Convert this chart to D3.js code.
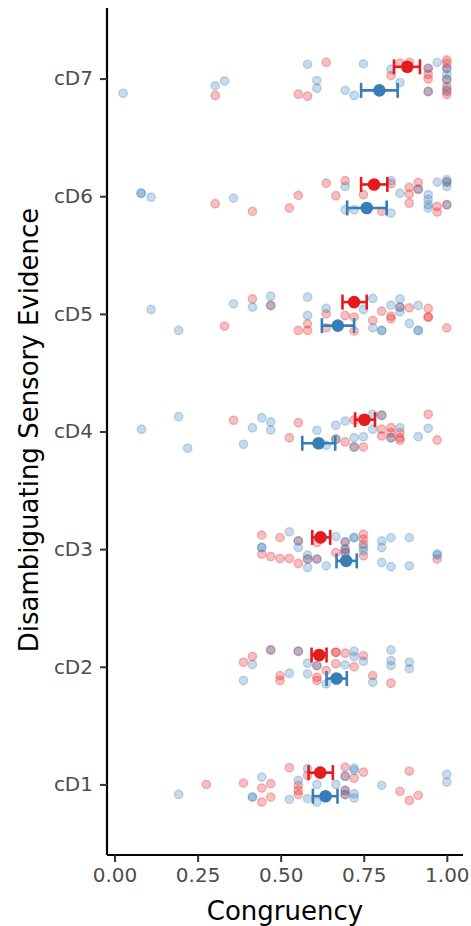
<!DOCTYPE html>
<html>
<head>
<script src="https://d3js.org/d3.v7.min.js"></script>
<style>
  body { margin: 0; background: #fff; }
  svg { display: block; font-family: "DejaVu Sans", sans-serif; }
</style>
</head>
<body>
<div id="chart"></div>
<script>
// categories, top to bottom
const categories = ["cD7", "cD6", "cD5", "cD4", "cD3", "cD2", "cD1"];
const xTicks = [0, 0.25, 0.5, 0.75, 1];

// individual points: [category, congruency, jitter (fraction of band, + = up)]
const redPoints = [
  ["cD7",0.303,-0.144],["cD7",0.553,-0.133],["cD7",0.581,-0.15],["cD7",0.637,0.138],["cD7",0.832,0.025],
  ["cD7",0.859,0.13],["cD7",0.888,0.138],["cD7",0.944,0.087],["cD7",0.944,0.037],["cD7",0.944,-0.003],
  ["cD7",0.944,-0.11],["cD7",1.0,0.159],["cD7",1.0,0.13],["cD7",1.0,0.087],["cD7",1.0,-0.008],
  ["cD7",1.0,-0.068],["cD7",1.0,-0.11],["cD7",1.0,-0.136],
  ["cD6",0.303,-0.064],["cD6",0.415,-0.129],["cD6",0.526,-0.10],["cD6",0.553,0.007],["cD6",0.637,0.111],
  ["cD6",0.666,0.004],["cD6",0.694,0.132],["cD6",0.749,0.013],["cD6",0.804,-0.129],["cD6",0.832,0.106],
  ["cD6",0.887,0.075],["cD6",0.887,0.018],["cD6",0.887,-0.059],["cD6",0.914,0.06],["cD6",0.914,0.117],
  ["cD6",0.971,-0.087],["cD6",0.971,-0.135],["cD6",1.0,0.12],["cD6",1.0,-0.072],
  ["cD5",0.331,-0.104],["cD5",0.415,0.127],["cD5",0.47,0.071],["cD5",0.581,-0.085],["cD5",0.581,-0.141],
  ["cD5",0.553,-0.141],["cD5",0.637,0],["cD5",0.637,-0.119],["cD5",0.694,-0.014],["cD5",0.721,-0.028],
  ["cD5",0.721,-0.147],["cD5",0.777,-0.056],["cD5",0.804,0.023],["cD5",0.832,-0.02],["cD5",0.832,-0.042],
  ["cD5",0.859,0.057],["cD5",0.887,0.051],["cD5",0.944,0.046],["cD5",0.944,-0.028],["cD5",0.944,-0.028],
  ["cD5",1.0,-0.119],
  ["cD4",0.358,0.095],["cD4",0.526,-0.053],["cD4",0.553,0.075],["cD4",0.666,-0.066],["cD4",0.694,-0.089],
  ["cD4",0.721,0.098],["cD4",0.721,-0.132],["cD4",0.749,-0.132],["cD4",0.804,0.138],["cD4",0.804,0.019],
  ["cD4",0.804,-0.038],["cD4",0.832,0.032],["cD4",0.832,-0.01],["cD4",0.832,-0.053],["cD4",0.859,-0.01],
  ["cD4",0.859,-0.053],["cD4",0.859,-0.075],["cD4",0.944,0.146],["cD4",0.971,-0.072],
  ["cD3",0.443,0.119],["cD3",0.443,-0.042],["cD3",0.47,-0.063],["cD3",0.498,0.098],["cD3",0.498,-0.08],
  ["cD3",0.526,-0.08],["cD3",0.553,0.07],["cD3",0.553,-0.122],["cD3",0.581,-0.085],["cD3",0.609,0.056],
  ["cD3",0.609,-0.085],["cD3",0.666,-0.029],["cD3",0.694,0.062],["cD3",0.694,0],["cD3",0.694,-0.029],
  ["cD3",0.749,0.127],["cD3",0.749,0.085],["cD3",0.749,0.042],["cD3",0.749,-0.057],["cD3",0.971,-0.085],
  ["cD2",0.388,0.038],["cD2",0.415,0.087],["cD2",0.47,0.143],["cD2",0.498,-0.075],["cD2",0.498,-0.117],
  ["cD2",0.553,0.132],["cD2",0.609,-0.089],["cD2",0.609,-0.117],["cD2",0.609,0.01],["cD2",0.637,-0.032],
  ["cD2",0.666,0.123],["cD2",0.666,0.123],["cD2",0.666,0.025],["cD2",0.694,0.115],["cD2",0.721,0],
  ["cD2",0.749,0.095],["cD2",0.777,-0.075],["cD2",0.832,-0.14],
  ["cD1",0.276,0],["cD1",0.388,0.011],["cD1",0.443,-0.031],["cD1",0.443,-0.15],["cD1",0.47,0.006],
  ["cD1",0.47,-0.108],["cD1",0.526,0.142],["cD1",0.553,-0.008],["cD1",0.553,-0.051],["cD1",0.553,-0.087],
  ["cD1",0.581,0.076],["cD1",0.694,0.147],["cD1",0.694,0.07],["cD1",0.694,-0.051],["cD1",0.694,-0.087],
  ["cD1",0.721,0.053],["cD1",0.749,0.104],["cD1",0.859,-0.059],["cD1",0.887,0.113],["cD1",0.887,-0.136],
  ["cD1",0.914,-0.093]
];

const bluePoints = [
  ["cD7",0.026,-0.125],["cD7",0.303,-0.062],["cD7",0.331,-0.02],["cD7",0.581,0.121],["cD7",0.609,-0.017],
  ["cD7",0.609,-0.082],["cD7",0.694,-0.10],["cD7",0.721,-0.144],["cD7",0.749,0.125],["cD7",0.832,0.079],
  ["cD7",0.859,-0.034],["cD7",0.944,0.087],["cD7",0.944,-0.11],["cD7",0.971,0.138],["cD7",1.0,0.085],
  ["cD7",1.0,0.034],["cD7",1.0,-0.008],["cD7",1.0,-0.093],
  ["cD6",0.08,0.026],["cD6",0.08,0.026],["cD6",0.11,-0.008],["cD6",0.358,-0.016],["cD6",0.694,0.083],
  ["cD6",0.694,-0.115],["cD6",0.721,-0.115],["cD6",0.832,0.132],["cD6",0.832,-0.143],["cD6",0.859,0.026],
  ["cD6",0.914,0.06],["cD6",0.944,0.013],["cD6",0.944,-0.028],["cD6",0.944,-0.072],["cD6",0.944,-0.10],
  ["cD6",0.971,0.12],["cD6",1.0,0.14],["cD6",1.0,0.12],["cD6",1.0,0.083],["cD6",1.0,-0.072],
  ["cD5",0.11,0.037],["cD5",0.193,-0.141],["cD5",0.358,0.085],["cD5",0.415,0.057],["cD5",0.47,0.15],
  ["cD5",0.47,0.071],["cD5",0.581,0.142],["cD5",0.581,-0.014],["cD5",0.637,0.046],["cD5",0.749,0.037],
  ["cD5",0.777,0.131],["cD5",0.777,-0.119],["cD5",0.804,-0.141],["cD5",0.804,-0.141],["cD5",0.832,0.074],
  ["cD5",0.859,0.127],["cD5",0.859,0.057],["cD5",0.859,0.017],["cD5",0.887,-0.082],["cD5",0.914,0.071],
  ["cD5",0.914,-0.141],["cD5",0.914,-0.141],
  ["cD4",0.081,0.019],["cD4",0.193,0.126],["cD4",0.22,-0.143],["cD4",0.388,-0.109],["cD4",0.415,0.032],
  ["cD4",0.443,0.117],["cD4",0.47,0.081],["cD4",0.47,0.013],["cD4",0.609,0.01],["cD4",0.637,-0.117],
  ["cD4",0.666,-0.066],["cD4",0.666,0.053],["cD4",0.694,0.089],["cD4",0.721,-0.132],["cD4",0.721,-0.053],
  ["cD4",0.749,-0.044],["cD4",0.777,0.146],["cD4",0.777,0.019],["cD4",0.804,0.138],["cD4",0.832,-0.053],
  ["cD4",0.859,0.032],["cD4",0.914,-0.044],["cD4",0.944,0.027],
  ["cD3",0.443,0.014],["cD3",0.443,0.014],["cD3",0.526,0.147],["cD3",0.553,0.07],["cD3",0.553,0.014],
  ["cD3",0.581,-0.051],["cD3",0.581,-0.085],["cD3",0.581,-0.156],["cD3",0.609,-0.085],["cD3",0.637,-0.142],
  ["cD3",0.666,0.107],["cD3",0.694,0.062],["cD3",0.694,0],["cD3",0.694,-0.029],["cD3",0.721,0.098],
  ["cD3",0.721,0.098],["cD3",0.749,0.014],["cD3",0.749,-0.014],["cD3",0.804,0.07],["cD3",0.804,0.014],
  ["cD3",0.804,-0.114],["cD3",0.832,0.098],["cD3",0.832,-0.15],["cD3",0.887,0.098],["cD3",0.887,-0.142],
  ["cD3",0.971,-0.051],["cD3",0.971,-0.04],
  ["cD2",0.388,-0.117],["cD2",0.415,0.019],["cD2",0.47,0.143],["cD2",0.526,-0.055],["cD2",0.553,0.132],
  ["cD2",0.581,0.03],["cD2",0.581,-0.06],["cD2",0.609,0.01],["cD2",0.637,-0.145],["cD2",0.694,0.016],
  ["cD2",0.721,0.132],["cD2",0.721,0.087],["cD2",0.749,0.047],["cD2",0.777,-0.131],["cD2",0.832,0.143],
  ["cD2",0.832,0.053],["cD2",0.832,0.01],["cD2",0.887,0.038],["cD2",0.887,-0.018],
  ["cD1",0.193,-0.085],["cD1",0.415,-0.108],["cD1",0.415,-0.108],["cD1",0.443,0.062],["cD1",0.526,-0.127],
  ["cD1",0.553,0.034],["cD1",0.581,0.133],["cD1",0.581,-0.121],["cD1",0.609,0],["cD1",0.609,-0.15],
  ["cD1",0.666,0],["cD1",0.694,0.07],["cD1",0.694,-0.051],["cD1",0.694,-0.087],["cD1",0.721,0.138],
  ["cD1",0.721,0.119],["cD1",0.721,-0.079],["cD1",0.721,-0.116],["cD1",0.804,-0.008],["cD1",1.0,0.085],
  ["cD1",1.0,0.02]
];

// means with error bars: [category, mean, low, high]
const redMeans = [
  ["cD7",0.881,0.841,0.919],["cD6",0.781,0.742,0.821],["cD5",0.721,0.686,0.759],["cD4",0.752,0.724,0.784],
  ["cD3",0.620,0.595,0.649],["cD2",0.616,0.593,0.638],["cD1",0.619,0.584,0.657]
];
const blueMeans = [
  ["cD7",0.797,0.742,0.852],["cD6",0.759,0.700,0.819],["cD5",0.672,0.624,0.721],["cD4",0.614,0.565,0.664],
  ["cD3",0.697,0.668,0.729],["cD2",0.668,0.638,0.699],["cD1",0.635,0.597,0.671]
];

const RED = "#E41A1C", BLUE = "#377EB8";
const width = 471, height = 926;

const svg = d3.select("#chart").append("svg")
  .attr("width", width).attr("height", height);

const x = d3.scaleLinear().domain([-0.0227, 1.0487]).range([107, 463]);
const y = d3.scalePoint().domain(categories).range([8, 855]).padding(0.6);
const step = y.step();

// jittered raw points
function drawPoints(data, color) {
  svg.append("g").selectAll("circle")
    .data(data)
    .join("circle")
    .attr("cx", d => x(d[1]))
    .attr("cy", d => y(d[0]) - d[2] * step)
    .attr("r", 4.2)
    .attr("fill", color)
    .attr("fill-opacity", 0.28)
    .attr("stroke", color)
    .attr("stroke-opacity", 0.28)
    .attr("stroke-width", 1.4);
}
drawPoints(redPoints, RED);
drawPoints(bluePoints, BLUE);

// mean + error bar, dodged
function drawMeans(data, color, dodge) {
  const g = svg.append("g");
  const yy = d => y(d[0]) - dodge * step;
  g.selectAll(".bar").data(data).join("line")
    .attr("x1", d => x(d[2])).attr("x2", d => x(d[3]))
    .attr("y1", yy).attr("y2", yy)
    .attr("stroke", color).attr("stroke-width", 2.6);
  [2, 3].forEach(k => {
    g.selectAll(".cap" + k).data(data).join("line")
      .attr("x1", d => x(d[k])).attr("x2", d => x(d[k]))
      .attr("y1", d => yy(d) - 7.5).attr("y2", d => yy(d) + 7.5)
      .attr("stroke", color).attr("stroke-width", 2.6);
  });
  g.selectAll("circle").data(data).join("circle")
    .attr("cx", d => x(d[1])).attr("cy", yy)
    .attr("r", 6.3).attr("fill", color);
}
drawMeans(blueMeans, BLUE, -0.1);
drawMeans(redMeans, RED, 0.1);

// axes
const xAxis = svg.append("g")
  .attr("transform", "translate(0,855)")
  .call(d3.axisBottom(x).tickValues(xTicks).tickFormat(d3.format(".2f")).tickSize(7).tickPadding(6));
const yAxis = svg.append("g")
  .attr("transform", "translate(107,0)")
  .call(d3.axisLeft(y).tickSize(7).tickPadding(7));

[xAxis, yAxis].forEach(a => {
  a.select(".domain").attr("stroke", "#000").attr("stroke-width", 2.2);
  a.selectAll(".tick line").attr("stroke", "#333").attr("stroke-width", 2);
  a.selectAll(".tick text").attr("fill", "#4D4D4D")
    .style("font-size", "20px").style("font-family", "DejaVu Sans, sans-serif");
});
xAxis.select(".domain").attr("d", "M107,0H463");
yAxis.select(".domain").attr("d", "M0,8V855");

svg.append("text")
  .attr("x", 285).attr("y", 920)
  .attr("text-anchor", "middle")
  .style("font-size", "26px")
  .text("Congruency");

svg.append("text")
  .attr("transform", "translate(38,430) rotate(-90)")
  .attr("text-anchor", "middle")
  .style("font-size", "26px")
  .text("Disambiguating Sensory Evidence");
</script>
</body>
</html>
